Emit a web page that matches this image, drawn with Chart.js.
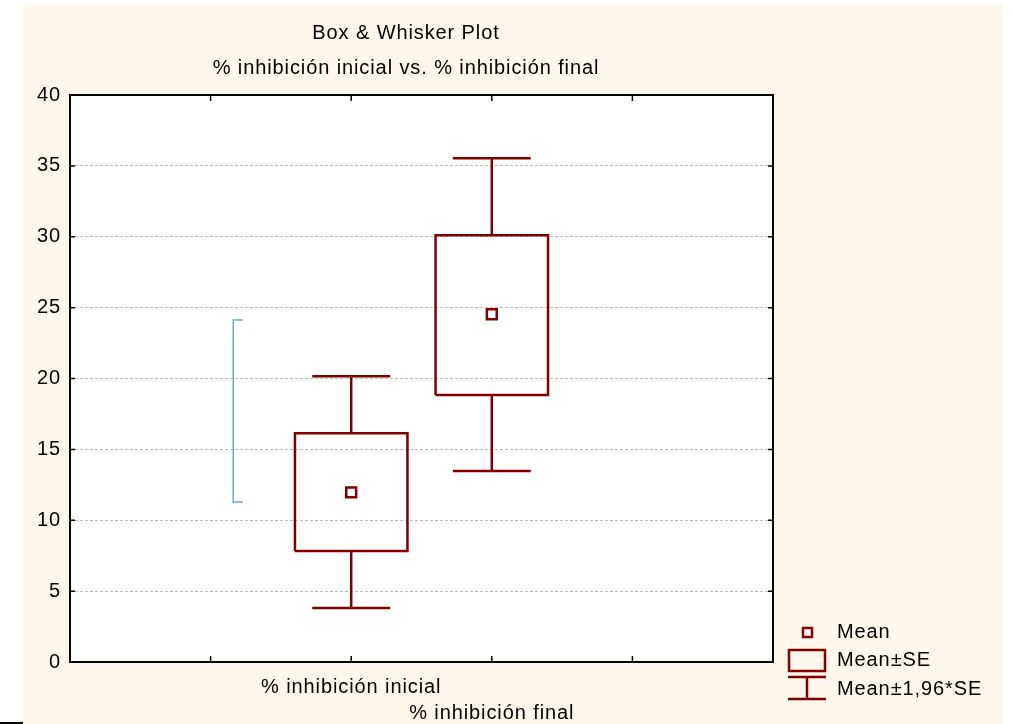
<!DOCTYPE html>
<html>
<head>
<meta charset="utf-8">
<script src="https://cdn.jsdelivr.net/npm/chart.js@4"></script>
<style>
  body { margin: 0; background: #ffffff; }
  canvas { display: block; }
</style>
</head>
<body>
<canvas id="boxChart" width="1012" height="724"></canvas>
<script>
// values
const categories = ['% inhibición inicial', '% inhibición final'];
const positions = [2, 3];
const means = [11.97, 24.53];
const seLow = [7.83, 18.84];
const seHigh = [16.13, 30.10];
const ciLow = [3.81, 13.47];
const ciHigh = [20.15, 35.53];
const yTicks = [0, 5, 10, 15, 20, 25, 30, 35, 40];
// stray blue bracket on the left
const bracketX = [1.23, 1.161];
const bracketY = [24.13, 11.29];

const titleLines = ['Box & Whisker Plot', '% inhibición inicial vs. % inhibición final'];
const legendLabels = ['Mean', 'Mean±SE', 'Mean±1,96*SE'];

const RED = '#800000';
const CREAM = '#fef8ec';
const FONT = '20px "Liberation Sans", Arial, sans-serif';
const SPACING = '0.9px';
const halfBox = 0.4;
const halfCap = 0.277;

function seg(x1, y1, x2, y2) {
    return {
        type: 'line',
        data: [{ x: x1, y: y1 }, { x: x2, y: y2 }],
        borderColor: RED,
        borderWidth: 2.5,
        pointRadius: 0,
        showLine: true,
        fill: false
    };
}

const datasets = [];
positions.forEach((p, i) => {
    datasets.push({
        type: 'line',
        data: [
            { x: p - halfBox, y: seLow[i] }, { x: p + halfBox, y: seLow[i] },
            { x: p + halfBox, y: seHigh[i] }, { x: p - halfBox, y: seHigh[i] },
            { x: p - halfBox, y: seLow[i] }
        ],
        borderColor: RED, borderWidth: 2.5, pointRadius: 0, showLine: true, fill: false
    });
    datasets.push(seg(p, seHigh[i], p, ciHigh[i]));
    datasets.push(seg(p - halfCap, ciHigh[i], p + halfCap, ciHigh[i]));
    datasets.push(seg(p, seLow[i], p, ciLow[i]));
    datasets.push(seg(p - halfCap, ciLow[i], p + halfCap, ciLow[i]));
});
datasets.push({
    type: 'line',
    data: [
        { x: bracketX[0], y: bracketY[0] }, { x: bracketX[1], y: bracketY[0] },
        { x: bracketX[1], y: bracketY[1] }, { x: bracketX[0], y: bracketY[1] }
    ],
    borderColor: '#6ea6dc', borderWidth: 1.5, pointRadius: 0, showLine: true, fill: false
});
datasets.push({
    type: 'scatter',
    data: positions.map((p, i) => ({ x: p, y: means[i] })),
    pointStyle: 'rect',
    pointRadius: 7,
    pointBackgroundColor: '#ffffff',
    pointBorderColor: RED,
    pointBorderWidth: 2.5,
    showLine: false
});

const decor = {
    id: 'decor',
    beforeUpdate(chart) { chart.ctx.letterSpacing = SPACING; },
    beforeDraw(chart) {
        const ctx = chart.ctx;
        const a = chart.chartArea;
        ctx.letterSpacing = SPACING;
        ctx.save();
        // page panel
        ctx.fillStyle = CREAM;
        ctx.fillRect(23, 4, 979, 720);
        ctx.fillStyle = '#000';
        ctx.fillRect(0, 722, 23, 2);
        // plot area
        ctx.fillStyle = '#ffffff';
        ctx.fillRect(a.left, a.top, a.right - a.left, a.bottom - a.top);
        ctx.restore();
    },
    afterDraw(chart) {
        const ctx = chart.ctx;
        const a = chart.chartArea;
        const xs = chart.scales.x, ys = chart.scales.y;
        ctx.save();
        ctx.letterSpacing = SPACING;

        // frame
        ctx.strokeStyle = '#000';
        ctx.lineWidth = 2;
        ctx.strokeRect(a.left, a.top, a.right - a.left, a.bottom - a.top);

        // inward ticks
        ctx.lineWidth = 1.5;
        ctx.beginPath();
        [1, 2, 3, 4].forEach(v => {
            const px = xs.getPixelForValue(v);
            ctx.moveTo(px, a.top); ctx.lineTo(px, a.top + 6);
            ctx.moveTo(px, a.bottom); ctx.lineTo(px, a.bottom - 6);
        });
        yTicks.slice(1, -1).forEach(v => {
            const py = ys.getPixelForValue(v);
            ctx.moveTo(a.left, py); ctx.lineTo(a.left + 5, py);
            ctx.moveTo(a.right, py); ctx.lineTo(a.right - 5, py);
        });
        ctx.stroke();

        // titles
        ctx.fillStyle = '#000';
        ctx.font = FONT;
        ctx.textAlign = 'center';
        ctx.textBaseline = 'middle';
        ctx.fillText(titleLines[0], 406, 33);
        ctx.fillText(titleLines[1], 406, 68);

        // legend
        ctx.strokeStyle = RED;
        ctx.fillStyle = '#fff';
        ctx.lineWidth = 2.5;
        ctx.fillRect(803, 628, 9, 9);
        ctx.strokeRect(803, 628, 9, 9);
        ctx.strokeRect(789, 650, 36, 21);
        ctx.beginPath();
        ctx.moveTo(788, 677); ctx.lineTo(826, 677);
        ctx.moveTo(788, 699); ctx.lineTo(826, 699);
        ctx.moveTo(807, 677); ctx.lineTo(807, 699);
        ctx.stroke();

        ctx.fillStyle = '#000';
        ctx.textAlign = 'left';
        ctx.fillText(legendLabels[0], 837, 632);
        ctx.fillText(legendLabels[1], 837, 660);
        ctx.fillText(legendLabels[2], 837, 689);
        ctx.restore();
    }
};

new Chart(document.getElementById('boxChart').getContext('2d'), {
    type: 'scatter',
    data: { datasets: datasets },
    options: {
        responsive: false,
        animation: false,
        devicePixelRatio: 1,
        layout: { padding: { top: 95, right: 239, bottom: 0, left: 0 } },
        plugins: {
            legend: { display: false },
            tooltip: { enabled: false },
            title: { display: false }
        },
        scales: {
            x: {
                type: 'linear',
                min: 0,
                max: 5,
                afterFit: s => { s.height = 62; },
                afterBuildTicks: s => { s.ticks = [0, 1, 2, 3, 4, 5].map(v => ({ value: v })); },
                ticks: {
                    autoSkip: false,
                    maxRotation: 0,
                    color: '#000',
                    font: { family: '"Liberation Sans", Arial, sans-serif', size: 20, lineHeight: 1.3 },
                    padding: 4,
                    callback: v => {
                        const i = positions.indexOf(v);
                        if (i < 0) return '';
                        return i % 2 ? ['', categories[i]] : categories[i];
                    }
                },
                grid: { display: false },
                border: { display: false }
            },
            y: {
                min: 0,
                max: 40,
                afterFit: s => { s.width = 70; },
                afterBuildTicks: s => { s.ticks = yTicks.map(v => ({ value: v })); },
                ticks: {
                    color: '#000',
                    font: { family: '"Liberation Sans", Arial, sans-serif', size: 20 },
                    padding: 9
                },
                grid: {
                    drawTicks: false,
                    lineWidth: 1,
                    color: c => (c.tick && (c.tick.value === 0 || c.tick.value === 40)) ? 'rgba(0,0,0,0)' : '#bdbdbd'
                },
                border: { display: false, dash: [3, 2] }
            }
        }
    },
    plugins: [decor]
});
</script>
</body>
</html>
